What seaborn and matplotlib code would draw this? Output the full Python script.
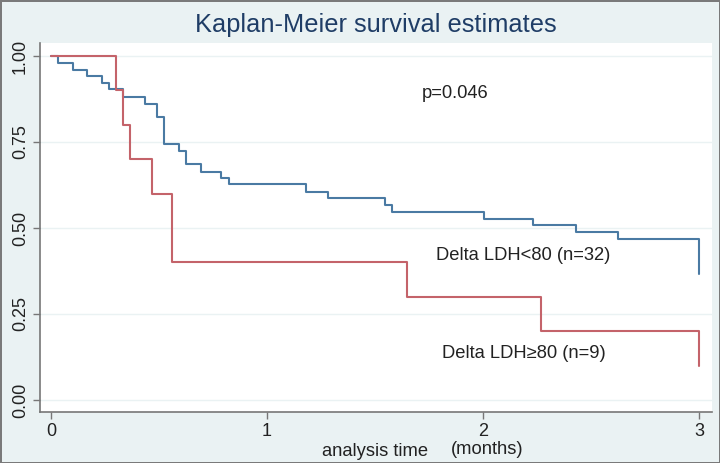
import pandas as pd
import matplotlib
matplotlib.use("Agg")
import matplotlib.pyplot as plt
import seaborn as sns

# curva Delta LDH<80 (azul)
t_bajo = [0, 0.034, 0.100, 0.168, 0.234, 0.268, 0.334, 0.435, 0.491, 0.524, 0.593, 0.624,
          0.693, 0.789, 0.824, 1.182, 1.282, 1.544, 1.580, 2.006, 2.233, 2.430, 2.627, 3.0]
s_bajo = [1.0, 0.981, 0.960, 0.941, 0.922, 0.903, 0.882, 0.862, 0.823, 0.745, 0.724, 0.686,
          0.664, 0.646, 0.627, 0.606, 0.586, 0.567, 0.547, 0.526, 0.508, 0.489, 0.468, 0.366]
# curva Delta LDH>=80 (roja)
t_alto = [0, 0.300, 0.333, 0.365, 0.466, 0.559, 1.647, 2.268, 3.0]
s_alto = [1.0, 0.9, 0.8, 0.7, 0.6, 0.4, 0.3, 0.2, 0.1]

grupos = ["Delta LDH<80 (n=32)", "Delta LDH≥80 (n=9)"]
colores = ["#4a7aa3", "#c4636a"]

df = pd.concat([
    pd.DataFrame({"tiempo": t_bajo, "surv": s_bajo, "grupo": grupos[0]}),
    pd.DataFrame({"tiempo": t_alto, "surv": s_alto, "grupo": grupos[1]}),
])

sns.set_style("white")
plt.rcParams["font.family"] = ["Liberation Sans", "DejaVu Sans"]

fondo = "#eaf2f3"
fig = plt.figure(figsize=(7.2, 4.63), dpi=100, facecolor=fondo, edgecolor="#7a7a7a", linewidth=2)
ax = fig.add_axes([40 / 720, 51 / 463, 672 / 720, 369 / 463])
ax.set_facecolor("white")

sns.lineplot(data=df, x="tiempo", y="surv", hue="grupo", palette=colores, estimator=None,
             sort=False, drawstyle="steps-post", linewidth=1.5, legend=False, ax=ax)

ax.set_xlim(-0.051, 3.06)
ax.set_ylim(-0.035, 1.038)
ax.set_xticks([0, 1, 2, 3])
ax.set_yticks([0, 0.25, 0.5, 0.75, 1.0])
ax.set_yticklabels(["0.00", "0.25", "0.50", "0.75", "1.00"], rotation=90, va="center")
ax.tick_params(axis="both", labelsize=13, length=5, width=1, color="#777777", direction="out",
               left=True, bottom=True, pad=3, labelcolor="#222222")
ax.grid(axis="y", color=fondo, linewidth=1)
ax.grid(axis="x", visible=False)
for lado in ["top", "right"]:
    ax.spines[lado].set_visible(False)
for lado in ["left", "bottom"]:
    ax.spines[lado].set_color("#777777")
    ax.spines[lado].set_linewidth(1.2)
ax.set_xlabel("")
ax.set_ylabel("")

fig.text(376 / 720, 1 - 25 / 463, "Kaplan-Meier survival estimates", ha="center", va="center",
         fontsize=18.3, color="#1f3d66")
fig.text(375 / 720, 1 - 452 / 463, "analysis time", ha="center", va="center", fontsize=13.2,
         color="#222222")
fig.text(487 / 720, 1 - 449 / 463, "(months)", ha="center", va="center", fontsize=13.2,
         color="#222222")
fig.text(455 / 720, 1 - 94 / 463, "p=0.046", ha="center", va="center", fontsize=13.2,
         color="#222222")
fig.text(523 / 720, 1 - 256 / 463, grupos[0], ha="center", va="center", fontsize=13.2,
         color="#222222")
fig.text(524 / 720, 1 - 354 / 463, grupos[1], ha="center", va="center", fontsize=13.2,
         color="#222222")

fig.savefig("out.png", dpi=100, facecolor=fig.get_facecolor(), edgecolor=fig.get_edgecolor())
